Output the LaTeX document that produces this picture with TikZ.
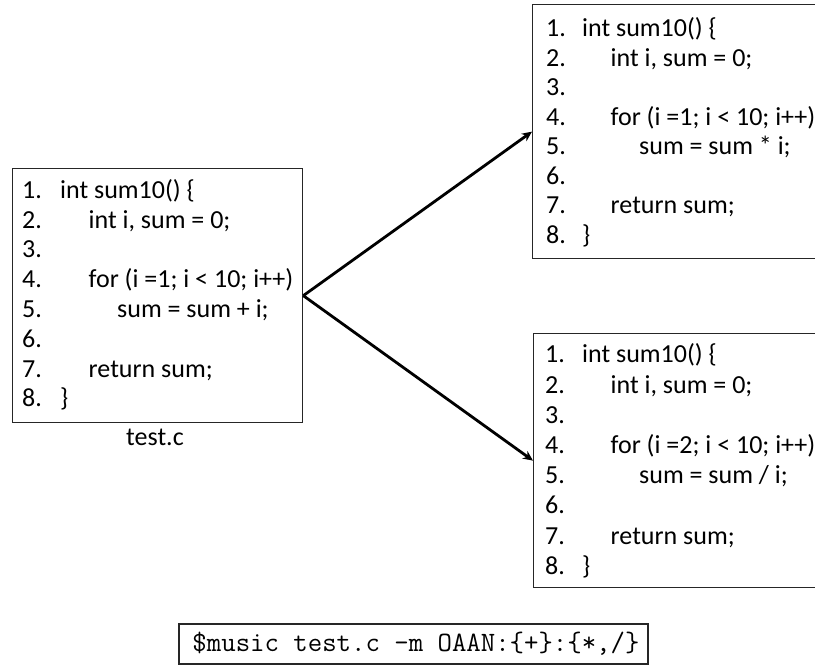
\documentclass[tikz,border=0pt]{standalone}
\usepackage{fontspec}
\setmainfont{Carlito}
\usetikzlibrary{arrows.meta}
\begin{document}
\begin{tikzpicture}[x=1pt,y=-1pt,
  codebox/.style={draw=black!85, line width=1.3pt, anchor=north west, minimum width=290pt, minimum height=254pt, inner sep=0pt},
  codeline/.style={anchor=base west, inner sep=0pt, font=\fontsize{26}{30}\selectfont},
  conn/.style={line width=2.8pt, -{Stealth[length=10pt,width=9pt]}}]
\clip (0,0) rectangle (815,668);
\fill[white] (0,0) rectangle (815,668);
% boxes
\node[codebox] (L) at (12,168) {};
\node[codebox] (TR) at (532,4) {};
\node[codebox] (BR) at (533,333) {};
% left code
\foreach \ind/\t [count=\i] in {0/{int sum10() \{}, 1/{int i, sum = 0;}, 0/{}, 1/{for (i =1; i < 10; i++)}, 2/{sum = sum + i;}, 0/{}, 1/{return sum;}, 0/{\}}}{
  \node[codeline] (Ln\i) at (22,{198.3+29.8*(\i-1)}) {\i.};
  \node[codeline] (Lt\i) at ({60+28.5*\ind},{198.3+29.8*(\i-1)}) {\t};
}
% top right code
\foreach \ind/\t [count=\i] in {0/{int sum10() \{}, 1/{int i, sum = 0;}, 0/{}, 1/{for (i =1; i < 10; i++)}, 2/{sum = sum * i;}, 0/{}, 1/{return sum;}, 0/{\}}}{
  \node[codeline] (Tn\i) at (546,{37+29.5*(\i-1)}) {\i.};
  \node[codeline] (Tt\i) at ({582+28.5*\ind},{37+29.5*(\i-1)}) {\t};
}
% bottom right code
\foreach \ind/\t [count=\i] in {0/{int sum10() \{}, 1/{int i, sum = 0;}, 0/{}, 1/{for (i =2; i < 10; i++)}, 2/{sum = sum / i;}, 0/{}, 1/{return sum;}, 0/{\}}}{
  \node[codeline] (Bn\i) at (545,{363+30.2*(\i-1)}) {\i.};
  \node[codeline] (Bt\i) at ({582+28.5*\ind},{363+30.2*(\i-1)}) {\t};
}
\node[anchor=base, inner sep=0pt, font=\fontsize{26}{30}\selectfont] (lbl) at (155,446) {test.c};
% connectors
\draw[conn] (L.east) -- (TR.west);
\draw[conn] (L.east) -- (BR.west);
% command
\node[draw=black!85, line width=1.3pt, minimum width=469pt, minimum height=40pt, inner sep=0pt] (cmd) at (413.5,644) {};
\node[inner sep=0pt, font=\ttfamily\fontsize{28}{30}\selectfont] (cmdt) at (416,644) {\$music test.c –m OAAN:\{+\}:\{*,/\}};
\end{tikzpicture}
\end{document}
